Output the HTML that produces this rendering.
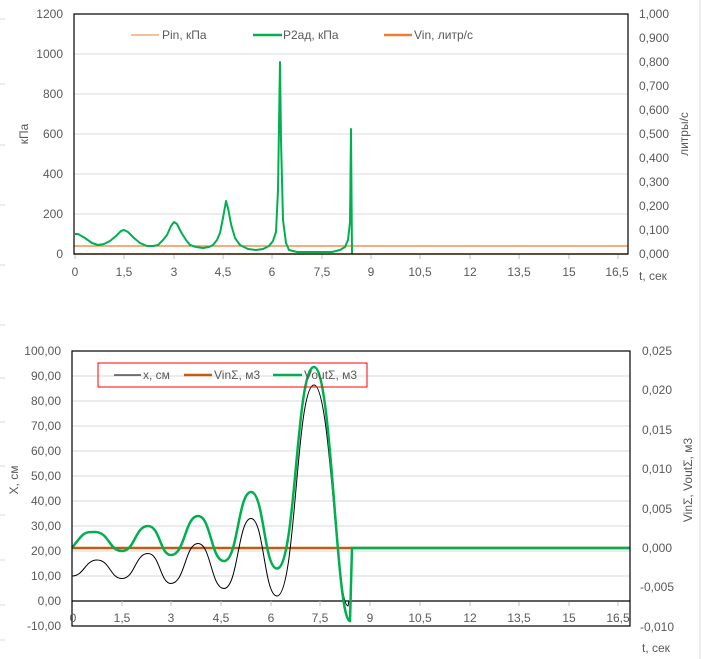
<!DOCTYPE html>
<html><head><meta charset="utf-8"><style>
body{margin:0;background:#fff}
svg{display:block;font-family:"Liberation Sans",sans-serif;font-size:12px;fill:#595959}
</style></head><body>
<svg width="701" height="659" viewBox="0 0 701 659">
<rect width="701" height="659" fill="#fff"/>
<line x1="700" y1="0" x2="700" y2="659" stroke="#d9d9d9"/>
<g stroke="#d9d9d9" stroke-width="1">
<line x1="0" y1="19" x2="5" y2="19"/><line x1="0" y1="84" x2="5" y2="84"/><line x1="0" y1="145" x2="5" y2="145"/><line x1="0" y1="205" x2="5" y2="205"/><line x1="0" y1="265" x2="5" y2="265"/><line x1="0" y1="325" x2="5" y2="325"/><line x1="0" y1="378" x2="5" y2="378"/><line x1="0" y1="422" x2="5" y2="422"/><line x1="0" y1="466" x2="5" y2="466"/><line x1="0" y1="515" x2="5" y2="515"/><line x1="0" y1="560" x2="5" y2="560"/><line x1="0" y1="605" x2="5" y2="605"/><line x1="0" y1="640" x2="5" y2="640"/>
</g>
<!-- TOP CHART -->
<g stroke="#d9d9d9">
<line x1="74" y1="54" x2="628" y2="54"/><line x1="74" y1="94" x2="628" y2="94"/><line x1="74" y1="134" x2="628" y2="134"/><line x1="74" y1="174" x2="628" y2="174"/><line x1="74" y1="214" x2="628" y2="214"/>
</g>
<g stroke="#bfbfbf">
<line x1="75" y1="254" x2="75" y2="259"/><line x1="124" y1="254" x2="124" y2="259"/><line x1="174" y1="254" x2="174" y2="259"/><line x1="223" y1="254" x2="223" y2="259"/><line x1="272" y1="254" x2="272" y2="259"/><line x1="322" y1="254" x2="322" y2="259"/><line x1="371" y1="254" x2="371" y2="259"/><line x1="420" y1="254" x2="420" y2="259"/><line x1="470" y1="254" x2="470" y2="259"/><line x1="519" y1="254" x2="519" y2="259"/><line x1="569" y1="254" x2="569" y2="259"/><line x1="618" y1="254" x2="618" y2="259"/>
</g>
<line x1="74" y1="246" x2="628" y2="246" stroke="#ed7d31" stroke-width="1.2"/>
<line x1="74" y1="254" x2="628" y2="254" stroke="#ed7d31" stroke-width="1.5"/>
<polyline fill="none" stroke="#00b050" stroke-width="2" stroke-linejoin="round" points="75,234 78,234 85,238 92,243 98,245 104,244 110,241 116,236 121,231 124,230 128,232 134,238 140,243 147,246 153,246 158,245 163,240 167,235 171,226 174,222 177,224 181,232 186,240 190,245 196,247 203,248 209,247 213,245 217,240 220,233 223,218 226,201 228,208 231,224 235,238 240,245 248,249 256,250 263,249 269,246 273,241 276,232 278,190 280,62 281,140 283,220 286,243 289,250 297,252 305,252 318,252 332,252 340,250 345,247 348,240 350,222 351,129 352,254"/>
<rect x="74" y="14" width="554" height="240" fill="none" stroke="#000" stroke-width="1.2"/>
<g text-anchor="end">
<text x="63" y="258">0</text><text x="63" y="218">200</text><text x="63" y="178">400</text><text x="63" y="138">600</text><text x="63" y="98">800</text><text x="63" y="58">1000</text><text x="63" y="18">1200</text>
</g>
<g>
<text x="639" y="258">0,000</text><text x="639" y="234">0,100</text><text x="639" y="210">0,200</text><text x="639" y="186">0,300</text><text x="639" y="162">0,400</text><text x="639" y="138">0,500</text><text x="639" y="114">0,600</text><text x="639" y="90">0,700</text><text x="639" y="66">0,800</text><text x="639" y="42">0,900</text><text x="639" y="18">1,000</text>
</g>
<g text-anchor="middle">
<text x="75" y="276">0</text><text x="124" y="276">1,5</text><text x="174" y="276">3</text><text x="223" y="276">4,5</text><text x="272" y="276">6</text><text x="322" y="276">7,5</text><text x="371" y="276">9</text><text x="420" y="276">10,5</text><text x="470" y="276">12</text><text x="519" y="276">13,5</text><text x="569" y="276">15</text><text x="617" y="276">16,5</text>
</g>
<text x="639" y="280">t, сек</text>
<text transform="translate(28,134) rotate(-90)" text-anchor="middle">кПа</text>
<text transform="translate(688,134) rotate(-90)" text-anchor="middle">литры/с</text>
<line x1="131" y1="35" x2="159" y2="35" stroke="#ed7d31" stroke-width="1"/><text x="162" y="39">Pin, кПа</text>
<line x1="253" y1="35" x2="282" y2="35" stroke="#00b050" stroke-width="2.5"/><text x="283" y="39">P2ад, кПа</text>
<line x1="384" y1="35" x2="412" y2="35" stroke="#ed7d31" stroke-width="2.5"/><text x="414" y="39">Vin, литр/с</text>
<!-- BOTTOM CHART -->
<g stroke="#d9d9d9">
<line x1="72" y1="376" x2="630" y2="376"/><line x1="72" y1="401" x2="630" y2="401"/><line x1="72" y1="426" x2="630" y2="426"/><line x1="72" y1="451" x2="630" y2="451"/><line x1="72" y1="476" x2="630" y2="476"/><line x1="72" y1="501" x2="630" y2="501"/><line x1="72" y1="526" x2="630" y2="526"/><line x1="72" y1="551" x2="630" y2="551"/><line x1="72" y1="576" x2="630" y2="576"/>
</g>
<line x1="72" y1="601" x2="630" y2="601" stroke="#000" stroke-width="1.2"/>
<g stroke="#bfbfbf">
<line x1="122" y1="601" x2="122" y2="606"/><line x1="171" y1="601" x2="171" y2="606"/><line x1="221" y1="601" x2="221" y2="606"/><line x1="271" y1="601" x2="271" y2="606"/><line x1="320" y1="601" x2="320" y2="606"/><line x1="370" y1="601" x2="370" y2="606"/><line x1="420" y1="601" x2="420" y2="606"/><line x1="470" y1="601" x2="470" y2="606"/><line x1="519" y1="601" x2="519" y2="606"/><line x1="569" y1="601" x2="569" y2="606"/><line x1="618" y1="601" x2="618" y2="606"/>
</g>
<line x1="72" y1="548" x2="630" y2="548" stroke="#c55a11" stroke-width="2.5"/>
<path fill="none" stroke="#000" stroke-width="1" d="M72,576 C84,576 85,560 97,560 C110,560 110,578.5 122,578.5 C135,578.5 135,553.5 148,553.5 C160,553.5 160,583.5 171,583.5 C185,583.5 185,543.5 198,543.5 C211,543.5 211,588.5 224,588.5 C238,588.5 238,518.5 251,518.5 C264,518.5 264,596 277,596 C296,596 296,385 314,385 C331,385 336,606 348,606 L349,601 L630,601"/>
<path fill="none" stroke="#00b050" stroke-width="2.5" d="M72,548 C84,532 84,532 95,532 C109,532 109,551 122,551 C135,551 135,526 148,526 C160,526 160,555 171,555 C185,555 185,516 198,516 C211,516 211,561 224,561 C238,561 238,492 251,492 C264,492 264,568.5 277,568.5 C296,568.5 296,367 314,367 C332,367 336,621 350,621 L352,548 L630,548"/>
<rect x="72" y="351" width="558" height="275" fill="none" stroke="#000" stroke-width="1.2"/>
<g text-anchor="end">
<text x="61" y="355">100,00</text><text x="61" y="380">90,00</text><text x="61" y="405">80,00</text><text x="61" y="430">70,00</text><text x="61" y="455">60,00</text><text x="61" y="480">50,00</text><text x="61" y="505">40,00</text><text x="61" y="530">30,00</text><text x="61" y="555">20,00</text><text x="61" y="580">10,00</text><text x="61" y="605">0,00</text><text x="61" y="630">-10,00</text>
</g>
<g>
<text x="642" y="355">0,025</text><text x="642" y="394">0,020</text><text x="642" y="434">0,015</text><text x="642" y="473">0,010</text><text x="642" y="513">0,005</text><text x="642" y="552">0,000</text><text x="640" y="591">-0,005</text><text x="640" y="631">-0,010</text>
</g>
<g text-anchor="middle">
<text x="73" y="622">0</text><text x="122" y="622">1,5</text><text x="171" y="622">3</text><text x="221" y="622">4,5</text><text x="271" y="622">6</text><text x="320" y="622">7,5</text><text x="370" y="622">9</text><text x="420" y="622">10,5</text><text x="470" y="622">12</text><text x="519" y="622">13,5</text><text x="569" y="622">15</text><text x="618" y="622">16,5</text>
</g>
<text x="642" y="652">t, сек</text>
<text transform="translate(18,480) rotate(-90)" text-anchor="middle">X, см</text>
<text transform="translate(692,480) rotate(-90)" text-anchor="middle">VinΣ, VoutΣ, м3</text>
<rect x="98" y="363" width="269" height="24" fill="none" stroke="#ff0000" stroke-width="1"/>
<line x1="114" y1="375" x2="141" y2="375" stroke="#000" stroke-width="1"/><text x="143" y="379">x, см</text>
<line x1="184" y1="375" x2="212" y2="375" stroke="#c55a11" stroke-width="2.5"/><text x="214" y="379">VinΣ, м3</text>
<line x1="273" y1="375" x2="302" y2="375" stroke="#00b050" stroke-width="2.5"/><text x="304" y="379">VoutΣ, м3</text>
</svg>
</body></html>
